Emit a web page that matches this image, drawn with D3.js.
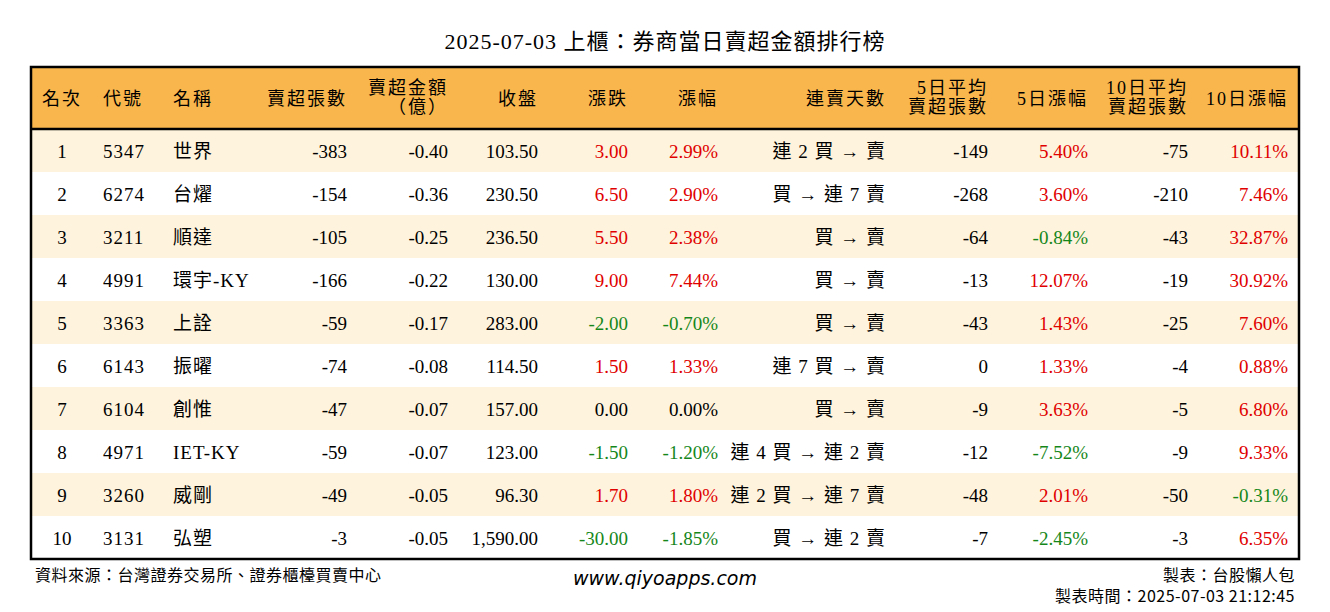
<!DOCTYPE html>
<html><head><meta charset="utf-8">
<script src="https://cdn.jsdelivr.net/npm/d3@7"></script>
<style>body{margin:0;background:#fff}</style>
</head><body><svg id="chart"></svg>
<script>
const title = "2025-07-03 上櫃：券商當日賣超金額排行榜";
const headers = ["名次","代號","名稱","賣超張數","賣超金額\n（億）","收盤","漲跌","漲幅","連賣天數","5日平均\n賣超張數","5日漲幅","10日平均\n賣超張數","10日漲幅"];
const ranks = [1,2,3,4,5,6,7,8,9,10];
const codes = ["5347","6274","3211","4991","3363","6143","6104","4971","3260","3131"];
const names = ["世界","台燿","順達","環宇-KY","上詮","振曜","創惟","IET-KY","威剛","弘塑"];
const sellLots = [-383,-154,-105,-166,-59,-74,-47,-59,-49,-3];
const sellAmt = [-0.40,-0.36,-0.25,-0.22,-0.17,-0.08,-0.07,-0.07,-0.05,-0.05];
const closes = [103.50,230.50,236.50,130.00,283.00,114.50,157.00,123.00,96.30,1590.00];
const changes = [3.00,6.50,5.50,9.00,-2.00,1.50,0.00,-1.50,1.70,-30.00];
const pcts = [2.99,2.90,2.38,7.44,-0.70,1.33,0.00,-1.20,1.80,-1.85];
const streaks = ["連 2 買 → 賣","買 → 連 7 賣","買 → 賣","買 → 賣","買 → 賣","連 7 買 → 賣","買 → 賣","連 4 買 → 連 2 賣","連 2 買 → 連 7 賣","買 → 連 2 賣"];
const avg5 = [-149,-268,-64,-13,-43,0,-9,-12,-48,-7];
const pct5 = [5.40,3.60,-0.84,12.07,1.43,1.33,3.63,-7.52,2.01,-2.45];
const avg10 = [-75,-210,-43,-19,-25,-4,-5,-9,-50,-3];
const pct10 = [10.11,7.46,32.87,30.92,7.60,0.88,6.80,9.33,-0.31,6.35];

const W = 1330, H = 612, L = 31, R = 1299, T = 67, HH = 62, RH = 43;
const serif = "'Liberation Serif','Noto Sans CJK TC',serif";
const red = "#e00000", green = "#15871a";
const f2 = d3.format(",.2f");
const col = v => v > 0 ? red : v < 0 ? green : "#000";

// columns: anchor x, alignment, value getter, colour getter
const cols = [
  {x:62, a:"middle", v:i=>ranks[i]},
  {x:103, a:"start", v:i=>codes[i]},
  {x:173, a:"start", v:i=>names[i]},
  {x:347, a:"end", v:i=>sellLots[i]},
  {x:448, a:"end", v:i=>sellAmt[i].toFixed(2)},
  {x:538, a:"end", v:i=>f2(closes[i])},
  {x:628, a:"end", v:i=>changes[i].toFixed(2), c:i=>col(changes[i])},
  {x:718, a:"end", v:i=>pcts[i].toFixed(2)+"%", c:i=>col(pcts[i])},
  {x:886, a:"end", v:i=>streaks[i]},
  {x:988, a:"end", v:i=>avg5[i]},
  {x:1088, a:"end", v:i=>pct5[i].toFixed(2)+"%", c:i=>col(pct5[i])},
  {x:1188, a:"end", v:i=>avg10[i]},
  {x:1288, a:"end", v:i=>pct10[i].toFixed(2)+"%", c:i=>col(pct10[i])}
];

const svg = d3.select("#chart").attr("width", W).attr("height", H)
  .style("font-family", serif);

svg.append("text").attr("x", W/2).attr("y", 49).attr("text-anchor","middle")
  .attr("font-size", 22).attr("letter-spacing", 1).text(title);

const y = d3.scaleBand().domain(ranks).range([T+HH, T+HH+RH*ranks.length]);

svg.append("rect").attr("x",L).attr("y",T).attr("width",R-L).attr("height",HH).attr("fill","#f8b64c");
svg.selectAll("rect.row").data(ranks).join("rect").attr("class","row")
  .attr("x",L).attr("y",d=>y(d)).attr("width",R-L).attr("height",y.bandwidth())
  .attr("fill",(d,i)=>i%2===0?"#fef3dc":"#fff");

// header
cols.forEach((c,j)=>{
  const lines = headers[j].split("\n");
  const t = svg.append("text").attr("text-anchor", c.a)
    .attr("font-size",18).attr("letter-spacing",2);
  lines.forEach((ln,k)=>{
    t.append("tspan").attr("x", c.x)
      .attr("y", lines.length===1 ? T+HH/2+7 : T+HH/2-4+k*19).text(ln);
  });
});
svg.append("line").attr("x1",L).attr("x2",R).attr("y1",T+HH).attr("y2",T+HH)
  .attr("stroke","#000").attr("stroke-width",2.5);

// body
cols.forEach(c=>{
  svg.append("g").selectAll("text").data(ranks).join("text")
    .attr("x",c.x).attr("y",d=>y(d)+y.bandwidth()/2+7).attr("text-anchor",c.a)
    .attr("font-size",19).attr("fill",(d,i)=>c.c?c.c(i):"#000")
    .attr("letter-spacing", c.a==="start"||c.x===886 ? 1 : 0)
    .text((d,i)=>c.v(i));
});

svg.append("rect").attr("x",L).attr("y",T).attr("width",R-L).attr("height",HH+RH*ranks.length)
  .attr("fill","none").attr("stroke","#000").attr("stroke-width",2.5);

const fy = T+HH+RH*ranks.length;
const cjk = "'Noto Sans CJK TC',sans-serif";
svg.append("text").attr("x",35).attr("y",fy+22).attr("font-size",16).attr("letter-spacing",0.5)
  .attr("font-family",cjk).text("資料來源：台灣證券交易所、證券櫃檯買賣中心");
svg.append("text").attr("x",665).attr("y",fy+26).attr("font-size",19).attr("text-anchor","middle")
  .attr("font-style","italic").attr("font-family","'DejaVu Sans',sans-serif").text("www.qiyoapps.com");
svg.append("text").attr("x",1295).attr("y",fy+22).attr("font-size",16).attr("text-anchor","end")
  .attr("font-family",cjk).attr("letter-spacing",0.5).text("製表：台股懶人包");
svg.append("text").attr("x",1295).attr("y",fy+43).attr("font-size",16).attr("text-anchor","end")
  .attr("font-family",cjk).attr("letter-spacing",0.5).text("製表時間：2025-07-03 21:12:45");
</script></body></html>
